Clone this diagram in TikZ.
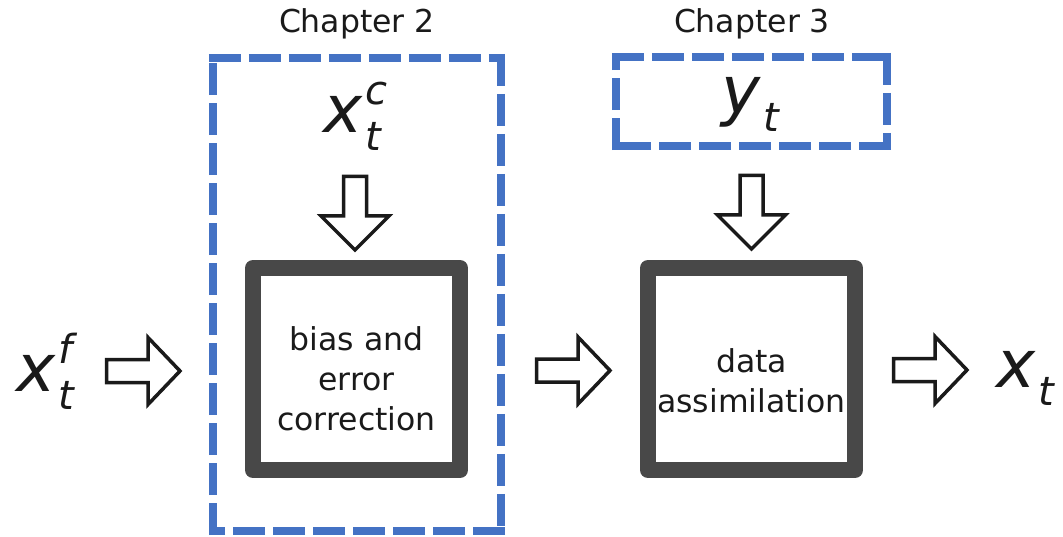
\documentclass[tikz,border=0pt]{standalone}
\usepackage{fontspec}
\setmainfont{DejaVu Sans}
\definecolor{chapblue}{HTML}{4472C4}
\definecolor{boxgray}{HTML}{484848}
\definecolor{ink}{HTML}{1A1A1A}

% state symbol with a superscript and a subscript, both in oblique type
\newcommand\symlabel[3]{{\fontsize{66}{66}\selectfont\itshape #1}\kern 3pt%
  {\fontsize{40}{40}\selectfont\itshape\rlap{\raisebox{28pt}{#2}}\raisebox{-18pt}{#3}}}

% dashed frame around a node, each side starting with a dash at its corner
\newcommand\chapframe[1]{%
  \draw[chapbox] ([xshift=-4pt]#1.north west) -- ([xshift=4pt]#1.north east);
  \draw[chapbox] ([yshift=4pt]#1.north east) -- ([yshift=-4pt]#1.south east);
  \draw[chapbox] ([xshift=4pt]#1.south east) -- ([xshift=-4pt]#1.south west);
  \draw[chapbox] ([yshift=-4pt]#1.south west) -- ([yshift=4pt]#1.north west);}

\tikzset{
  chapbox/.style={draw=chapblue, line width=8pt, dash pattern=on 32pt off 8pt},
  frame/.style={minimum width=#1, inner sep=0pt},
  stagebox/.style={draw=boxgray, line width=16pt, line join=round, inner sep=0pt},
  flowarrow/.style={draw=ink, line width=3.5pt, fill=white, line join=miter},
  caption/.style={font=\fontsize{31.5}{40}\selectfont, text=ink, inner sep=0pt},
  stagetext/.style={caption, align=center},
  symbol/.style={text=ink, inner sep=0pt, anchor=base west},
  rarrow/.pic={\draw[flowarrow] (0,-11.5) -- (41.5,-11.5) -- (41.5,-33.5) -- (73.5,0)
      -- (41.5,33.5) -- (41.5,11.5) -- (0,11.5) -- cycle;},
  darrow/.pic={\draw[flowarrow] (-11.5,0) -- (-11.5,39.5) -- (-34,39.5) -- (0,73.5)
      -- (34,39.5) -- (11.5,39.5) -- (11.5,0) -- cycle;},
}

\begin{document}
\begin{tikzpicture}[x=1pt, y=-1pt]
  \fill[white] (0,0) rectangle (1063,537);
  \useasboundingbox (0,0) rectangle (1063,537);

  % chapter frames
  \node[frame=288pt, minimum height=473pt] (ch2) at (357,294.5) {};
  \chapframe{ch2}
  \node[frame=271pt, minimum height=89pt] (ch3) at (751.5,101.5) {};
  \chapframe{ch3}
  \node[caption, anchor=base] (ch2label) at (357,33) {Chapter 2};
  \node[caption, anchor=base] (ch3label) at (752,33) {Chapter 3};

  % processing stages
  \node[stagebox, minimum width=207pt, minimum height=202pt] (bias) at (356.5,369) {};
  \node[stagetext] (biastext) at (356.5,379) {bias and\\error\\correction};
  \node[stagebox, minimum width=207pt, minimum height=202pt] (da) at (751.5,369) {};
  \node[stagetext] (datext) at (751.5,381) {data\\assimilation};

  % flow arrows
  \pic (in) at (106.5,371) {rarrow};
  \pic (mid) at (536.5,370.5) {rarrow};
  \pic (out) at (893.5,370) {rarrow};
  \pic (cdown) at (355,176.5) {darrow};
  \pic (ydown) at (751.5,175.5) {darrow};

  % states
  \node[symbol] (xf) at (16,391) {\symlabel{x}{f}{t}};
  \node[symbol] (xc) at (323,133) {\symlabel{x}{c}{t}};
  \node[symbol] (yt) at (721,114) {\symlabel{y}{}{t}};
  \node[symbol] (xa) at (996,387) {\symlabel{x}{}{t}};
\end{tikzpicture}
\end{document}
